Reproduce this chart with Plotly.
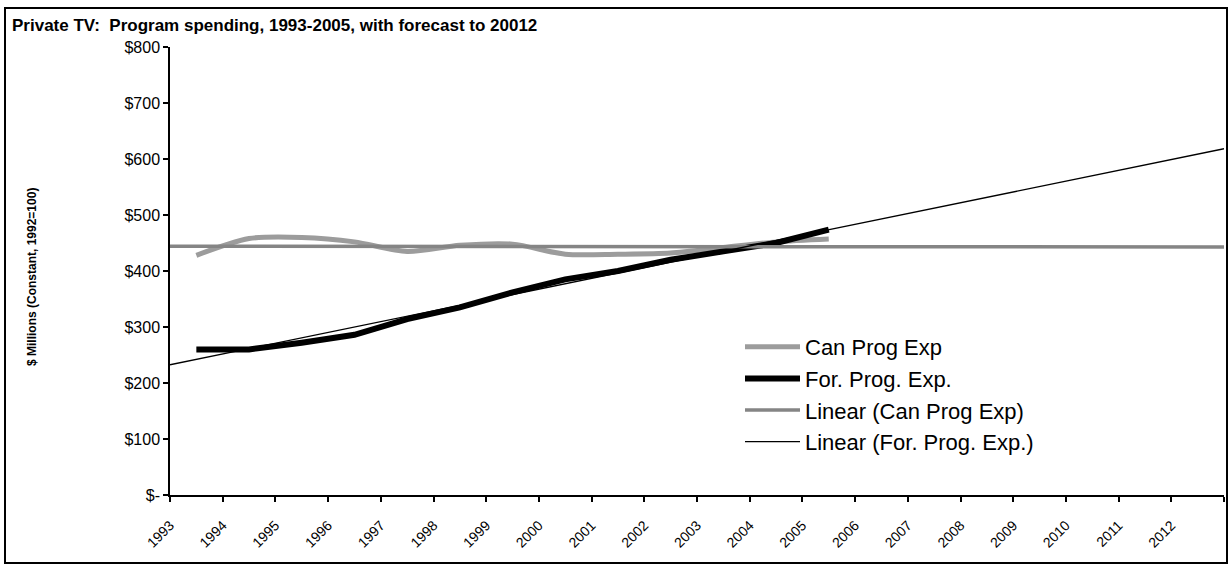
import numpy as np
import plotly.graph_objects as go

# ---- data ----
years = [1993, 1994, 1995, 1996, 1997, 1998, 1999, 2000, 2001, 2002, 2003, 2004, 2005]
can_prog_exp = [428, 458, 460, 452, 435, 446, 448, 430, 430, 432, 442, 452, 457]
for_prog_exp = [260, 260, 272, 286, 314, 335, 362, 385, 400, 420, 435, 450, 474]
axis_years = list(range(1993, 2013))          # category labels 1993 .. 2012
y_ticks = [0, 100, 200, 300, 400, 500, 600, 700, 800]
y_tick_text = ["$-", "$100", "$200", "$300", "$400", "$500", "$600", "$700", "$800"]

title_text = "Private TV:  Program spending, 1993-2005, with forecast to 20012"
y_title = "$ Millions (Constant, 1992=100)"

# Excel-style linear trendlines (fit on the data, drawn across the whole axis)
x_lo, x_hi = axis_years[0] - 0.5, axis_years[-1] + 0.5
trend_x = [x_lo, x_hi]
can_fit = np.polyfit(years, can_prog_exp, 1)
for_fit = np.polyfit(years, for_prog_exp, 1)
can_trend = np.polyval(can_fit, trend_x)
for_trend = np.polyval(for_fit, trend_x)

FONT = "Arial, Liberation Sans, sans-serif"

# plot-area geometry in pixels
W, H = 1231, 567
L, R, T, B = 170, 7, 47, 72
PW, PH = W - L - R, H - T - B


def px_x(px):
    return (px - L) / PW


def px_y(py):
    return (H - B - py) / PH


fig = go.Figure()
fig.add_trace(go.Scatter(x=years, y=can_prog_exp, mode="lines", name="Can Prog Exp",
                         legendgroup="g1",
                         line=dict(color="#9c9c9c", width=5, shape="spline", smoothing=0.8)))
fig.add_trace(go.Scatter(x=years, y=for_prog_exp, mode="lines", name="For. Prog. Exp.",
                         legendgroup="g2",
                         line=dict(color="#000000", width=6)))
fig.add_trace(go.Scatter(x=trend_x, y=can_trend, mode="lines", name="Linear (Can Prog Exp)",
                         legendgroup="g3",
                         line=dict(color="#858585", width=3.5)))
fig.add_trace(go.Scatter(x=trend_x, y=for_trend, mode="lines", name="Linear (For. Prog. Exp.)",
                         legendgroup="g4",
                         line=dict(color="#000000", width=1.3)))

tick_vals = [y - 0.5 for y in axis_years] + [x_hi]
tick_text = [str(y) for y in axis_years] + [""]

fig.update_layout(
    width=W, height=H, autosize=False,
    margin=dict(l=L, r=R, t=T, b=B, pad=0),
    paper_bgcolor="white", plot_bgcolor="white",
    font=dict(family=FONT, color="black"),
    title=dict(text="<b>" + title_text + "</b>", xref="container", x=12 / W, xanchor="left",
               yref="container", y=1 - 25 / H, yanchor="middle",
               font=dict(family=FONT, size=17, color="black")),
    xaxis=dict(range=[x_lo, x_hi], tickmode="array", tickvals=tick_vals, ticktext=tick_text,
               tickangle=-45, tickfont=dict(family=FONT, size=14, color="black"),
               ticklabelstandoff=10,
               ticks="outside", ticklen=5, tickwidth=1.5, tickcolor="black",
               showline=True, linecolor="black", linewidth=1.5,
               showgrid=False, zeroline=False),
    yaxis=dict(range=[0, 800], tickmode="array", tickvals=y_ticks, ticktext=y_tick_text,
               tickfont=dict(family=FONT, size=16, color="black"),
               ticks="outside", ticklen=5, tickwidth=1.5, tickcolor="black",
               showline=True, linecolor="black", linewidth=1.5,
               showgrid=False, zeroline=False),
    legend=dict(x=px_x(740), y=px_y(326), xanchor="left", yanchor="top",
                font=dict(family=FONT, size=22, color="black"),
                bgcolor="rgba(0,0,0,0)", traceorder="grouped", tracegroupgap=0,
                itemwidth=55),
    showlegend=True,
)

fig.add_annotation(text="<b>" + y_title + "</b>", textangle=-90, showarrow=False,
                   xref="paper", yref="paper", x=px_x(32), y=px_y(277),
                   xanchor="center", yanchor="middle",
                   font=dict(family=FONT, size=12, color="black"))

fig.add_shape(type="rect", xref="paper", yref="paper",
              x0=px_x(5), x1=px_x(1227), y0=px_y(563), y1=px_y(8),
              line=dict(color="black", width=2), fillcolor="rgba(0,0,0,0)", layer="above")

fig.write_html("out.html")
